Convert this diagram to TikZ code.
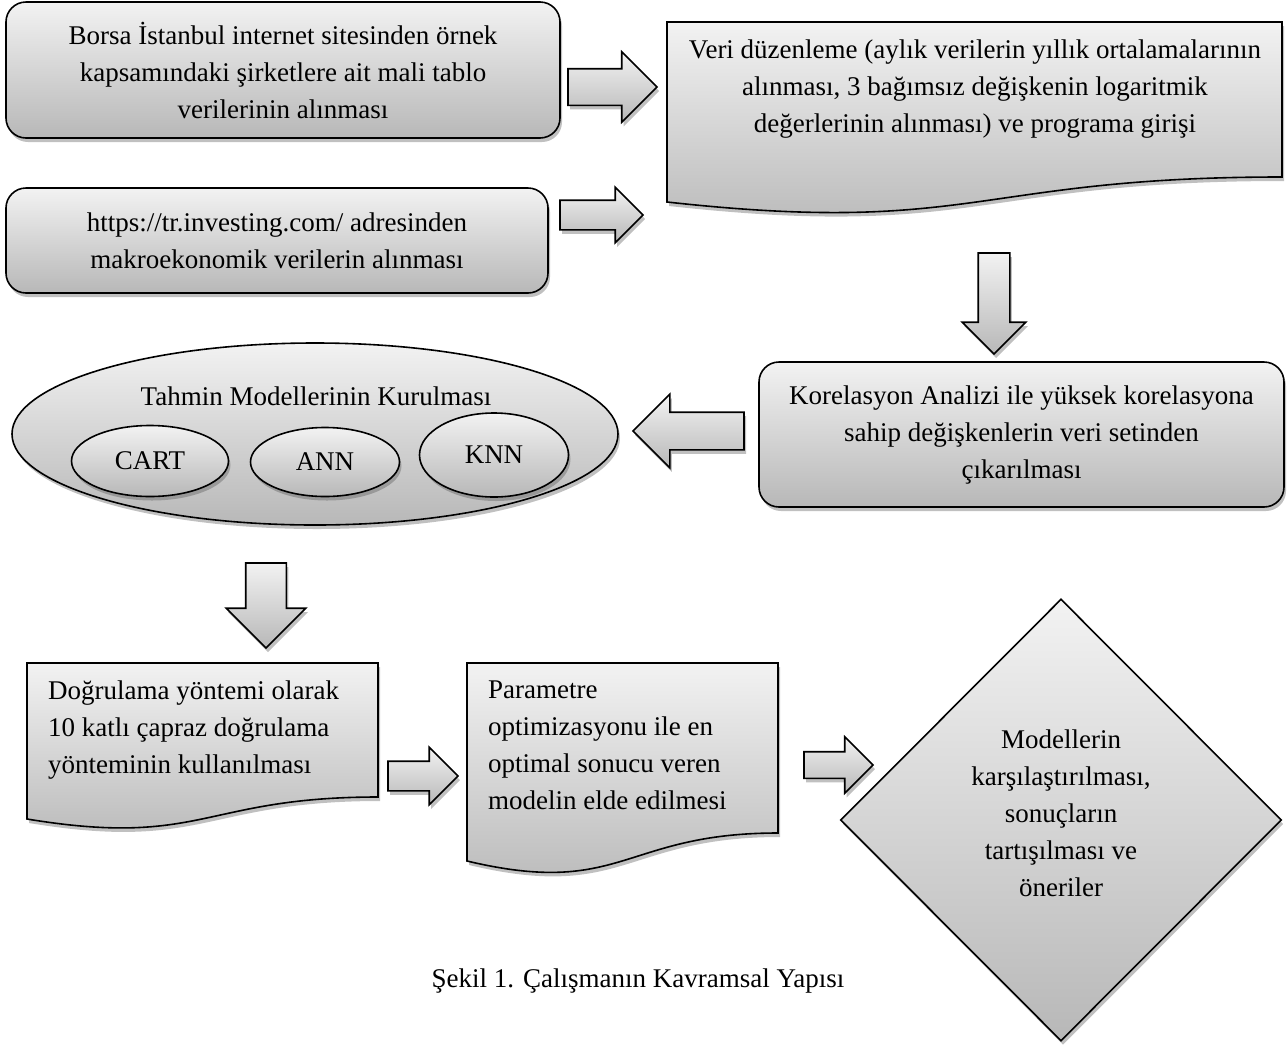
\documentclass[tikz,border=0pt]{standalone}
\usepackage{fontspec}
\setmainfont{Liberation Serif}
\usetikzlibrary{shapes.geometric,shapes.arrows,shadows}

% square phantom that fixes the shaft width of a block arrow
\newcommand{\shaftbox}[1]{\phantom{\rule{#1}{#1}}}

\tikzset{
  softshadow/.style={drop shadow={shadow xshift=2pt, shadow yshift=-4pt, opacity=0.35, fill=black!70}},
  grayfill/.style={top color=black!5, bottom color=black!28},
  roundbox/.style={rectangle, rounded corners=20pt, draw, line width=1.6pt, grayfill, softshadow, align=center, inner sep=0pt},
  docshape/.style={draw, line width=1.6pt, grayfill, softshadow},
  oval/.style={ellipse, draw, line width=1.6pt, grayfill, softshadow, inner sep=0pt},
  decisionbox/.style={diamond, shape aspect=1, draw, line width=1.6pt, grayfill, softshadow, inner sep=0pt},
  blockarrow/.style={single arrow, draw, line width=1.6pt, grayfill, softshadow, inner sep=0pt, outer sep=0pt, single arrow head extend=#1},
}

\begin{document}
\begin{tikzpicture}[x=1pt, y=-1pt, font=\fontsize{27}{37}\selectfont]

  % Bounding box of the scheme
  \fill[white] (0,0) rectangle (1288,1045);
  \useasboundingbox (0,0) rectangle (1288,1045);

  %%%%%%%%%%%%%%%%%%%%%%%%%%%%%%%%% Data sources %%%%%%%%%%%%%%%%%%%%%%%%%%%%%%%%%%%%
  \node[roundbox, minimum width=554pt, minimum height=136pt] (Bx1) at (283,70)
    {Borsa İstanbul internet sitesinden örnek\\kapsamındaki şirketlere ait mali tablo\\verilerinin alınması};
  \node[roundbox, minimum width=542pt, minimum height=105pt] (Bx2) at (277,240.5)
    {https://tr.investing.com/ adresinden\\makroekonomik verilerin alınması};

  \node[blockarrow=17pt, minimum height=89pt, anchor=tail] (Ar1) at (568,87) {\shaftbox{35pt}};
  \node[blockarrow=13pt, minimum height=83pt, anchor=tail] (Ar2) at (560,215) {\shaftbox{28pt}};

  %%%%%%%%%%%%%%%%%%%%%%%%%%%%%%%%% Data preparation %%%%%%%%%%%%%%%%%%%%%%%%%%%%%%%%%%%%
  \draw[docshape] (667,22) -- (1282,22) -- (1282,177) .. controls (974.5,177) and (974.5,236) .. (667,202) -- cycle;
  \node[align=center, inner sep=0pt] (Bx3) at (975,89)
    {Veri düzenleme (aylık verilerin yıllık ortalamalarının\\alınması, 3 bağımsız değişkenin logaritmik\\değerlerinin alınması) ve programa girişi};

  \node[blockarrow=16pt, shape border rotate=270, minimum height=101pt, anchor=tail] (Ar3) at (994,253) {\shaftbox{30pt}};

  \node[roundbox, minimum width=525pt, minimum height=145pt] (Bx4) at (1021.5,434.5)
    {Korelasyon Analizi ile yüksek korelasyona\\sahip değişkenlerin veri setinden\\çıkarılması};

  \node[blockarrow=18pt, shape border rotate=180, minimum height=111pt, anchor=tail] (Ar4) at (744,431) {\shaftbox{36pt}};

  %%%%%%%%%%%%%%%%%%%%%%%%%%%%%%%%% Models %%%%%%%%%%%%%%%%%%%%%%%%%%%%%%%%%%%%
  \node[oval, minimum width=606pt, minimum height=182pt] (Md) at (315,434) {};
  \node (MdT) at (316,396) {Tahmin Modellerinin Kurulması};
  \node[oval, minimum width=157pt, minimum height=71pt] (Md1) at (150,461) {CART};
  \node[oval, minimum width=149pt, minimum height=69pt] (Md2) at (325,462) {\raisebox{-4pt}{ANN}};
  \node[oval, minimum width=149pt, minimum height=84pt] (Md3) at (494,455) {KNN};

  \node[blockarrow=19.5pt, shape border rotate=270, minimum height=85pt, anchor=tail] (Ar5) at (266,563) {\shaftbox{39pt}};

  %%%%%%%%%%%%%%%%%%%%%%%%%%%%%%%%% Validation and optimisation %%%%%%%%%%%%%%%%%%%%%%%%%%%%%%%%%%%%
  \draw[docshape] (27,663) -- (378,663) -- (378,797) .. controls (202.5,797) and (202.5,848) .. (27,819) -- cycle;
  \node[align=left, inner sep=0pt, anchor=north west] (Bx5) at (48,681)
    {Doğrulama yöntemi olarak\\10 katlı çapraz doğrulama\\yönteminin kullanılması};

  \node[blockarrow=14pt, minimum height=70pt, anchor=tail] (Ar6) at (388,776) {\shaftbox{28pt}};

  \draw[docshape] (467,663) -- (778,663) -- (778,833) .. controls (622.5,833) and (622.5,898) .. (467,861) -- cycle;
  \node[align=left, inner sep=0pt, anchor=north west] (Bx6) at (488,681)
    {Parametre\\optimizasyonu ile en\\optimal sonucu veren\\modelin elde edilmesi};

  \node[blockarrow=15pt, minimum height=69pt, anchor=tail] (Ar7) at (804,765) {\shaftbox{25pt}};

  %%%%%%%%%%%%%%%%%%%%%%%%%%%%%%%%% Comparison %%%%%%%%%%%%%%%%%%%%%%%%%%%%%%%%%%%%
  \node[decisionbox, minimum width=441pt, minimum height=442pt] (Bx7) at (1061,820) {};
  \node[align=center, inner sep=0pt] (Bx7t) at (1061,813)
    {Modellerin\\karşılaştırılması,\\sonuçların\\tartışılması ve\\öneriler};

  % Caption
  \node[anchor=base] (Cap) at (638,987) {Şekil 1. Çalışmanın Kavramsal Yapısı};

\end{tikzpicture}
\end{document}
